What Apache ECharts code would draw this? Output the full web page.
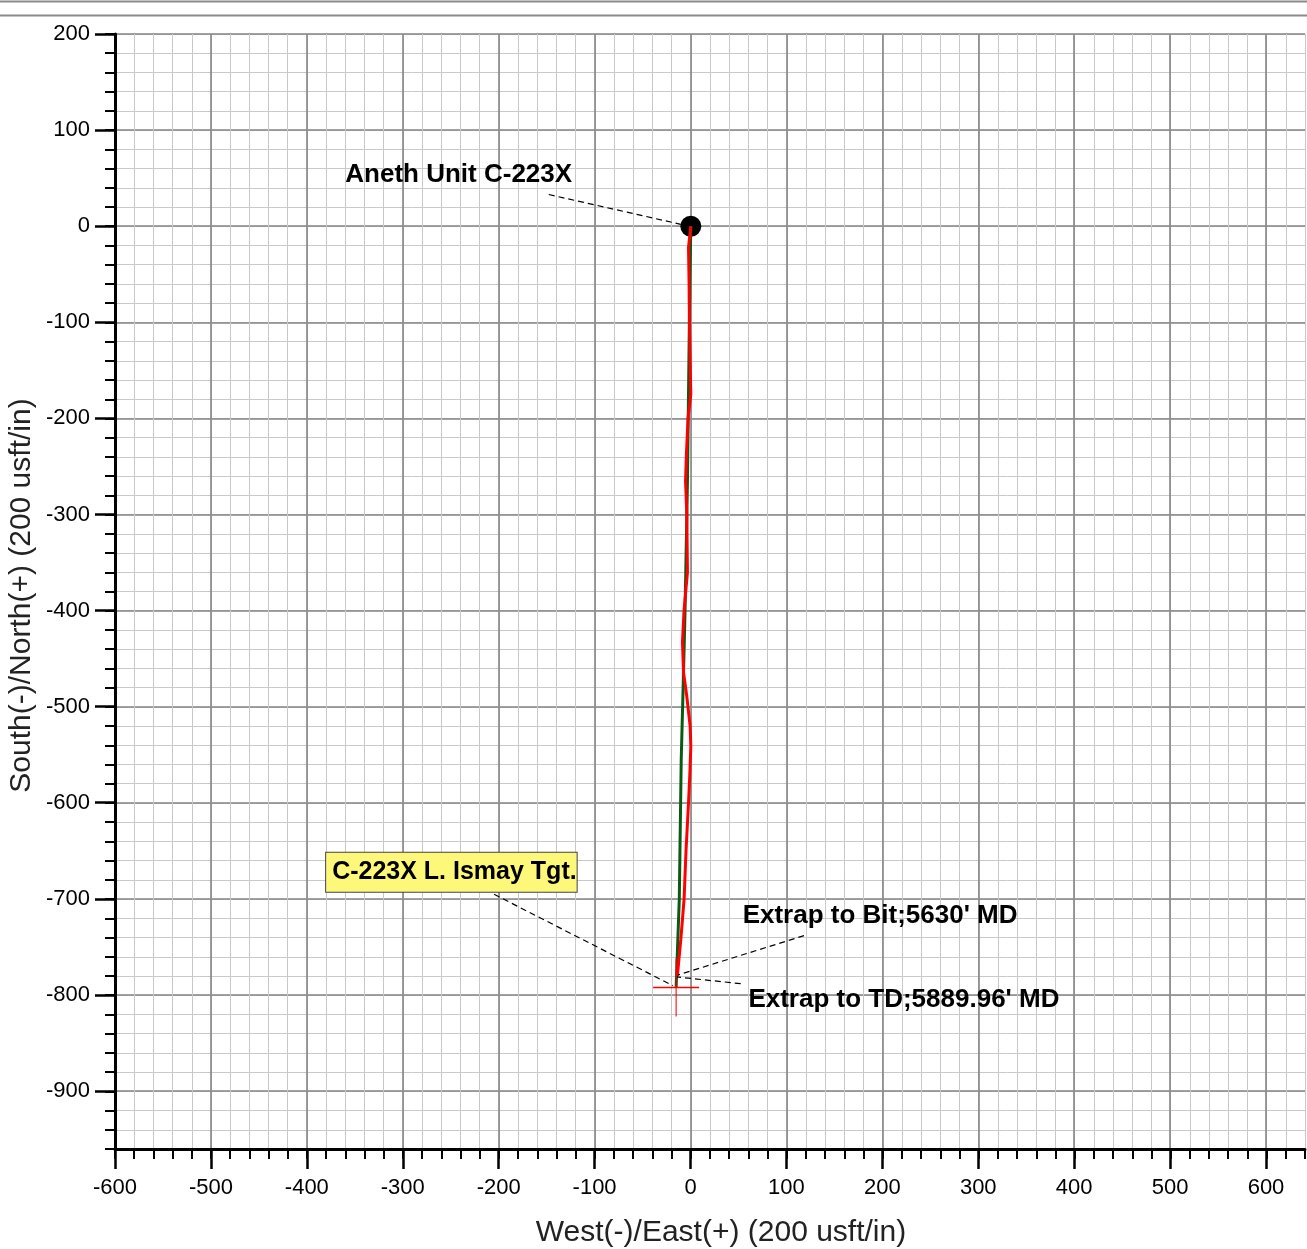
<!DOCTYPE html>
<html>
<head>
<meta charset="utf-8">
<script src="https://cdn.jsdelivr.net/npm/echarts@6/dist/echarts.min.js"></script>
<style>
html, body { margin: 0; padding: 0; background: #fff; }
#chart { width: 1307px; height: 1249px; }
</style>
</head>
<body>
<div id="chart"></div>
<script>
// plan view, West(-)/East(+) and South(-)/North(+) in usft

// planned wellpath (green)
var planEW = [0, -1, -3.5, -6, -8, -10, -12, -15.3];
var planNS = [0, -60, -265, -400, -480, -555, -700, -792];

// actual survey (red)
var actEW = [0, -2.4, -1.8, -1.4, 0, -2.8, -4.5, -5.5, -4.2, -3.5, -7, -8.7, -7.6, -4.2, -0.7, 0, -1, -2.4, -5, -7, -10.4, -14];
var actNS = [0, -22, -60, -102, -175, -199, -235, -265, -298, -360, -399, -433, -464, -489, -520, -541, -570, -600, -650, -700, -742, -780];

// wellhead and target
var wellhead = [0, 0];
var target = [-15.3, -792];

// annotations (text anchor = left edge / middle, in usft)
var noteTexts = ['Aneth Unit C-223X', 'C-223X L. Ismay Tgt.', "Extrap to Bit;5630' MD", "Extrap to TD;5889.96' MD"];
var noteAt = [[-360, 54], [-380, -672], [54, -717], [60, -805]];
var leaderFrom = [[-148, 33], [-205, -695], [118, -738], [52, -788]];
var leaderTo = [[-10.4, 2], [-18.8, -790], [-13.5, -779], [-14.6, -781]];

var FONT = '"Liberation Sans", Arial, sans-serif';

function zip(a, b) {
	var out = [];
	for (var i = 0; i < a.length; i++) out.push([a[i], b[i]]);
	return out;
}

var chart = echarts.init(document.getElementById('chart'));

var series = [
	{
		type: 'scatter',
		data: [wellhead],
		symbolSize: 21,
		itemStyle: { color: '#000', opacity: 1 },
		z: 2
	},
	{
		type: 'line',
		data: zip(planEW, planNS),
		symbol: 'none',
		lineStyle: { color: '#0b5a12', width: 3 },
		z: 3
	},
	{
		type: 'line',
		data: zip(actEW, actNS),
		symbol: 'none',
		lineStyle: { color: '#ff0000', width: 3 },
		z: 4
	},
	{
		// target cross
		type: 'scatter',
		data: [target],
		symbol: 'path://M-23,0 L23,0 M0,-29 L0,29',
		symbolSize: [46, 58],
		itemStyle: { color: 'transparent', borderColor: '#ff0000', borderWidth: 1.2, opacity: 1 },
		z: 5
	}
];

// leader lines
for (var i = 0; i < leaderFrom.length; i++) {
	series.push({
		type: 'line',
		data: [leaderFrom[i], leaderTo[i]],
		symbol: 'none',
		lineStyle: { color: '#000', width: 1.2, type: [6, 4] },
		z: 5
	});
}

// annotation texts
var noteData = [];
for (var j = 0; j < noteTexts.length; j++) {
	var item = { name: noteTexts[j], value: noteAt[j] };
	if (j === 1) {
		item.label = {
			fontSize: 25,
			backgroundColor: '#fdf77a',
			borderColor: '#444',
			borderWidth: 1,
			padding: [7, 0, 7, 6]
		};
	}
	noteData.push(item);
}
series.push({
	type: 'scatter',
	data: noteData,
	symbolSize: 0,
	itemStyle: { color: 'transparent', opacity: 1 },
	label: {
		show: true,
		position: 'right',
		distance: 0,
		formatter: '{b}',
		fontFamily: FONT,
		fontWeight: 'bold',
		fontSize: 26,
		color: '#000'
	},
	z: 6
});

for (var k = 0; k < series.length; k++) {
	series[k].xAxisIndex = 0;
	series[k].yAxisIndex = 0;
	series[k].silent = true;
}

var minorSplit = { show: true, lineStyle: { color: '#c9c9c9', width: 1 } };
var majorSplit = { show: true, lineStyle: { color: '#858585', width: 1.6 } };
var tickLabel = { fontFamily: FONT, fontSize: 22, color: '#000' };

var option = {
	animation: false,
	backgroundColor: '#fff',
	graphic: [
		{ type: 'line', shape: { x1: 0, y1: 1.5, x2: 1307, y2: 1.5 }, style: { stroke: '#8a8a8a', lineWidth: 2 } },
		{ type: 'line', shape: { x1: 0, y1: 15.5, x2: 1307, y2: 15.5 }, style: { stroke: '#8a8a8a', lineWidth: 2 } }
	],
	grid: [
		{ left: 115, top: 34, width: 1190, height: 1115, outerBoundsMode: 'none' },
		// major N/S lines and labels (-900 .. 200)
		{ left: 115, top: 34, width: 1190, height: 1057, outerBoundsMode: 'none' },
		// major E/W lines and labels (-600 .. 600)
		{ left: 115, top: 34, width: 1151, height: 1115, outerBoundsMode: 'none' }
	],
	xAxis: [
		{
			gridIndex: 0, type: 'value', min: -600, max: 640, interval: 20,
			name: 'West(-)/East(+) (200 usft/in)',
			nameLocation: 'middle', nameGap: 69,
			nameTextStyle: { fontFamily: FONT, fontSize: 30, color: '#222', padding: [0, 0, 0, 22] },
			axisLine: { onZero: false, lineStyle: { color: '#000', width: 3 } },
			axisTick: { length: 10, lineStyle: { color: '#000', width: 2 } },
			axisLabel: { show: false },
			splitLine: minorSplit
		},
		{ gridIndex: 1, type: 'value', min: -600, max: 640, show: false },
		{
			gridIndex: 2, type: 'value', min: -600, max: 600, interval: 100,
			axisLine: { show: false, onZero: false },
			axisTick: { length: 20, lineStyle: { color: '#000', width: 2.5 } },
			axisLabel: Object.assign({ margin: 28 }, tickLabel),
			splitLine: majorSplit
		}
	],
	yAxis: [
		{
			gridIndex: 0, type: 'value', min: -960, max: 200, interval: 20,
			name: 'South(-)/North(+) (200 usft/in)',
			nameLocation: 'middle', nameGap: 78,
			nameTextStyle: { fontFamily: FONT, fontSize: 30, color: '#222', padding: [0, 8, 0, 0] },
			axisLine: { onZero: false, lineStyle: { color: '#000', width: 3 } },
			axisTick: { length: 10, lineStyle: { color: '#000', width: 2 } },
			axisLabel: { show: false },
			splitLine: minorSplit
		},
		{
			gridIndex: 1, type: 'value', min: -900, max: 200, interval: 100,
			axisLine: { show: false, onZero: false },
			axisTick: { length: 20, lineStyle: { color: '#000', width: 2.5 } },
			axisLabel: Object.assign({ margin: 25 }, tickLabel),
			splitLine: majorSplit
		},
		{ gridIndex: 2, type: 'value', min: -960, max: 200, show: false }
	],
	series: series
};

chart.setOption(option);
</script>
</body>
</html>
